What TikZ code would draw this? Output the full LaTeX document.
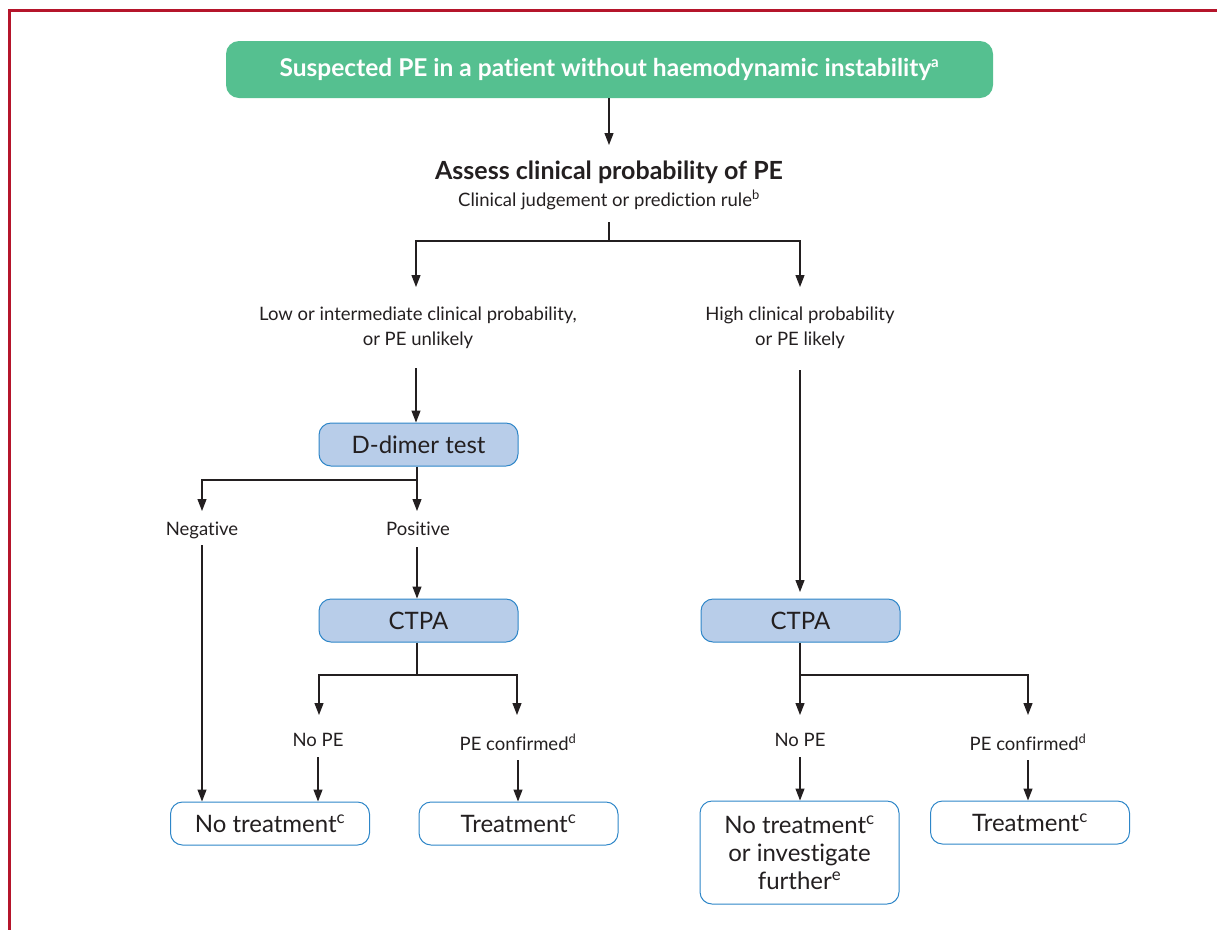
\documentclass[tikz,border=0pt]{standalone}
\usepackage{fontspec}
\setmainfont{Lato}[RawFeature={-liga;-calt;-dlig;-clig}]
\usetikzlibrary{arrows.meta}
\definecolor{frameRed}{HTML}{B5152B}
\definecolor{greenFill}{HTML}{55C090}
\definecolor{blueFill}{HTML}{B8CDE9}
\definecolor{blueLine}{HTML}{2E86C8}
\definecolor{txt}{HTML}{231F20}
\tikzset{
  ln/.style={line width=1.2pt, draw=txt},
  arr/.style={ln, -{Triangle[length=12pt,width=9pt]}},
  greenbox/.style={rounded corners=13pt, fill=greenFill, draw=none, text=white, font=\fontsize{24.5}{28}\selectfont\bfseries, minimum width=767pt, minimum height=57pt, inner sep=0pt},
  testbox/.style={rounded corners=12pt, fill=blueFill, draw=blueLine, line width=1pt, text=txt, font=\fontsize{24}{28}\selectfont, minimum width=199pt, minimum height=43pt, inner sep=0pt},
  outbox/.style={rounded corners=12pt, fill=white, draw=blueLine, line width=1pt, text=txt, font=\fontsize{24}{28}\selectfont, minimum width=199pt, minimum height=43pt, inner sep=0pt, align=center},
  lab/.style={text=txt, font=\fontsize{18.5}{25}\selectfont, align=center, inner sep=0pt},
}
\begin{document}
\begin{tikzpicture}[x=1pt,y=-1pt]
\useasboundingbox (0,0) rectangle (1217,930);
\draw[frameRed, line width=3pt] (1217,10) -- (9,10) -- (9,930);

% nodes
\node[greenbox] (top) at (609.5,69.5) {Suspected PE in a patient without haemodynamic instability\textsuperscript{\fontsize{15}{15}\selectfont a}};
\node[text=txt, font=\fontsize{25}{30}\selectfont\bfseries, inner sep=0pt, anchor=base] (assess) at (609,179) {Assess clinical probability of PE};
\node[lab, anchor=base] (assesssub) at (609,206) {Clinical judgement or prediction rule\textsuperscript{b}};
\node[lab] (lowlab) at (418,328) {Low or intermediate clinical probability,\\or PE unlikely};
\node[lab] (highlab) at (800,328) {High clinical probability\\or PE likely};
\node[testbox] (ddimer) at (418.5,444.5) {D-dimer test};
\node[lab, anchor=base] (neg) at (202,535) {Negative};
\node[lab, anchor=base] (pos) at (418,535) {Positive};
\node[testbox] (ctpaL) at (418.5,620.5) {CTPA};
\node[testbox] (ctpaR) at (800.5,620.5) {CTPA};
\node[lab, anchor=base] (nopeL) at (318,746) {No PE};
\node[lab, anchor=base] (pecL) at (518,750) {PE confirmed\textsuperscript{d}};
\node[lab, anchor=base] (nopeR) at (800,746) {No PE};
\node[lab, anchor=base] (pecR) at (1028,750) {PE confirmed\textsuperscript{d}};
\node[outbox] (ntL) at (270,823.5) {No treatment\textsuperscript{c}};
\node[outbox] (trL) at (518.5,823.5) {Treatment\textsuperscript{c}};
\node[outbox, minimum height=103pt, font=\fontsize{24}{28}\selectfont] (ntR) at (799.5,852.5) {No treatment\textsuperscript{c}\\or investigate\\further\textsuperscript{e}};
\node[outbox] (trR) at (1030,822.5) {Treatment\textsuperscript{c}};

% coordinates
\coordinate (a1) at (609,145);
\coordinate (s1) at (609,222);
\coordinate (j1) at (609,241);
\coordinate (lowtop) at (416,287);
\coordinate (hightop) at (800,287);
\coordinate (lowbot) at (416,368);
\coordinate (highbot) at (800,370);
\coordinate (hightip) at (800,592);
\coordinate (j2) at (417,480);
\coordinate (negtop) at (202,511);
\coordinate (postop) at (417,511);
\coordinate (negbot) at (202,545);
\coordinate (posbot) at (417,547);
\coordinate (j3) at (417,675);
\coordinate (nopeLtop) at (319,715);
\coordinate (pecLtop) at (517,715);
\coordinate (j4) at (800,675);
\coordinate (nopeRtop) at (800,715);
\coordinate (pecRtop) at (1028,715);
\coordinate (nopeLbot) at (318,757);
\coordinate (pecLbot) at (518,760);
\coordinate (nopeRbot) at (800,757);
\coordinate (pecRbot) at (1028,760);

% connectors
\draw[arr] (top.south -| a1) -- (a1);
\draw[ln] (s1) -- (j1);
\draw[arr] (j1) -| (lowtop);
\draw[arr] (j1) -| (hightop);
\draw[arr] (lowbot) -- (ddimer.north -| lowbot);
\draw[ln] (ddimer.south -| j2) -- (j2);
\draw[arr] (j2) -| (negtop);
\draw[arr] (j2) -- (postop);
\draw[arr] (negbot) -- (ntL.north -| negbot);
\draw[arr] (posbot) -- (ctpaL.north -| posbot);
\draw[ln] (ctpaL.south -| j3) -- (j3);
\draw[arr] (j3) -| (nopeLtop);
\draw[arr] (j3) -| (pecLtop);
\draw[arr] (nopeLbot) -- (ntL.north -| nopeLbot);
\draw[arr] (pecLbot) -- (trL.north -| pecLbot);
\draw[arr] (highbot) -- (hightip);
\draw[arr] (ctpaR.south -| j4) -- (nopeRtop);
\draw[arr] (j4) -| (pecRtop);
\draw[arr] (nopeRbot) -- (ntR.north -| nopeRbot);
\draw[arr] (pecRbot) -- (trR.north -| pecRbot);
\end{tikzpicture}
\end{document}
